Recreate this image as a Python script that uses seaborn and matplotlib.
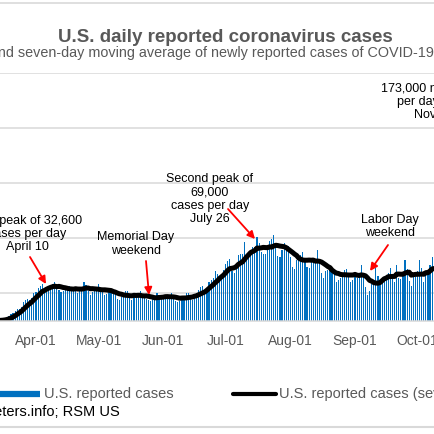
import matplotlib
matplotlib.use('Agg')
import matplotlib.pyplot as plt
from matplotlib.lines import Line2D
import seaborn as sns
import pandas as pd

# daily reported cases, starting 2020-03-01
mar = [20, 30, 50, 60, 80, 120, 120, 150, 200, 300, 450, 500, 700, 800, 1000, 1300,
       2000, 3000, 4800, 6000, 7000, 9000, 10500, 11000, 13000, 17500, 19000, 20000,
       19500, 21000, 25000]
apr = [26500, 29500, 32000, 34000, 25500, 29000, 31500, 32000, 34000, 35500, 30000,
       28000, 26000, 27500, 30000, 31000, 32000, 29000, 27000, 28500, 25500, 29500,
       31000, 35000, 33000, 27000, 24000, 26000, 28000, 30000]
may = [34000, 30000, 26000, 24000, 24500, 26000, 29000, 28000, 26000, 20000, 19000,
       22000, 21500, 27000, 27000, 24000, 19500, 22000, 21000, 22500, 27000, 24000,
       23000, 20000, 19000, 18500, 20000, 22500, 25000, 24000, 20500]
jun = [21000, 21500, 20500, 21500, 25000, 23000, 18500, 17500, 18500, 22000, 22000,
       25000, 25500, 20000, 19500, 23000, 25500, 28000, 31000, 32000, 26000, 30000,
       35000, 37000, 39000, 45000, 43000, 41000, 41000, 46000]
jul = [52000, 54000, 56000, 45000, 44000, 48000, 60000, 61000, 61000, 72000, 61000,
       58000, 62000, 67000, 67500, 76000, 71000, 63000, 61000, 61000, 66000, 73000,
       74000, 78000, 68000, 59000, 58000, 64000, 71000, 68000, 68000]
aug = [58000, 49000, 47000, 55000, 55000, 60000, 63000, 57000, 49000, 48000, 54000,
       56000, 53000, 64000, 55000, 44000, 39000, 45000, 46000, 46000, 48000, 45000,
       35000, 37000, 39000, 44000, 46000, 47000, 44000, 35000, 37000]
sep = [43000, 39000, 44000, 51000, 42000, 31000, 24000, 27000, 34000, 35000, 48000,
       41000, 35000, 36000, 39000, 39000, 44000, 48000, 42000, 35000, 51000, 39000,
       38000, 44000, 55000, 47000, 36000, 32000, 42000, 40000]
octo = [45000, 55000, 48000, 35000, 42000, 42000, 51000, 58000, 57000, 54000, 46000,
        42000, 51000, 58000, 65000, 71000]

month_ticks = ['2020-03-01', '2020-04-01', '2020-05-01', '2020-06-01', '2020-07-01',
               '2020-08-01', '2020-09-01', '2020-10-01', '2020-11-01']
month_labels = ['Mar-01', 'Apr-01', 'May-01', 'Jun-01', 'Jul-01', 'Aug-01',
                'Sep-01', 'Oct-01', 'Nov-01']

daily = mar + apr + may + jun + jul + aug + sep + octo
df = pd.DataFrame({'date': pd.date_range('2020-03-01', periods=len(daily)),
                   'cases': daily})
ref = pd.Timestamp('2020-04-01')
df['day'] = (df['date'] - ref).dt.days.astype(float)
df['avg'] = df['cases'].rolling(7).mean()

sns.set_style('white')
plt.rcParams['font.family'] = ['Liberation Sans', 'DejaVu Sans']

W = 435.0
def fx(x):
    return x / W
def fy(y):
    return 1 - y / W

fig = plt.figure(figsize=(4.35, 4.35), dpi=100)
# plot area is larger than the visible crop
pxday = 2.085
left_px = 36 - 31 * pxday
right_px = 36 + 243 * pxday
ax = fig.add_axes([fx(left_px), fy(322), (right_px - left_px) / W, (322 - 74) / W])

sns.barplot(data=df, x='day', y='cases', native_scale=True, width=0.55,
            color='#0070C0', saturation=1, errorbar=None, linewidth=0, ax=ax)
sns.lineplot(data=df, x='day', y='avg', color='black', linewidth=3.6, ax=ax)

ax.set_xlim(-31, 243)
ax.set_ylim(0, 225000)
ax.set_yticks([25000, 75000, 125000, 175000, 225000])
ax.set_yticklabels([])
ax.grid(axis='y', color='#D9D9D9', linewidth=1.1)
ax.set_axisbelow(True)
ticks = [(pd.Timestamp(t) - ref).days for t in month_ticks]
ax.set_xticks(ticks)
ax.set_xticklabels(month_labels)
ax.tick_params(axis='x', length=0, pad=9, labelsize=10, labelcolor='#595959')
ax.tick_params(axis='y', length=0)
ax.set_xlabel('')
ax.set_ylabel('')
for s in ['top', 'left', 'right']:
    ax.spines[s].set_visible(False)
ax.spines['bottom'].set_color('#D9D9D9')
ax.spines['bottom'].set_linewidth(1.1)

# header
fig.add_artist(Line2D([0, 1], [fy(4), fy(4)], color='#D9D9D9', lw=1.2))
fig.add_artist(Line2D([0, 1], [fy(428), fy(428)], color='#D9D9D9', lw=1.5))
fig.text(fx(225), fy(37), 'U.S. daily reported coronavirus cases', ha='center', va='center',
         fontsize=13.5, fontweight='bold', color='#595959')
fig.text(fx(434), fy(53), 'Daily cases and seven-day moving average of newly reported cases of COVID-19',
         ha='right', va='center', fontsize=10.4, color='#595959')

# annotations
txt = dict(ha='center', va='center', fontsize=9, color='black', linespacing=1.15)
fig.text(fx(27), fy(234), 'First peak of 32,600\ncases per day\nApril 10', **txt)
fig.text(fx(136), fy(244), 'Memorial Day\nweekend', **txt)
fig.text(fx(210), fy(199), 'Second peak of\n69,000\ncases per day\nJuly 26', **txt)
fig.text(fx(390), fy(226.5), 'Labor Day\nweekend', **txt)
fig.text(fx(435), fy(101.5), '173,000 new cases\nper day so far\nNov. 13', **txt)

arrows = [((30, 258), (46, 285)), ((146, 262), (149, 296)),
          ((228, 210), (255, 240)), ((388, 246), (370, 272))]
for start, tip in arrows:
    ax.annotate('', xy=(fx(tip[0]), fy(tip[1])), xycoords='figure fraction',
                xytext=(fx(start[0]), fy(start[1])), textcoords='figure fraction',
                arrowprops=dict(arrowstyle='-|>', color='#FF0000', lw=1.3,
                                mutation_scale=11, shrinkA=0, shrinkB=0),
                annotation_clip=False)

# legend
fig.add_artist(Line2D([fx(-5), fx(40)], [fy(394.5), fy(394.5)], color='#0070C0', lw=4.5,
                      solid_capstyle='butt'))
fig.text(fx(44), fy(394.5), 'U.S. reported cases', ha='left', va='center',
         fontsize=10.5, color='#595959')
fig.add_artist(Line2D([fx(233), fx(276)], [fy(395), fy(395)], color='black', lw=3,
                      solid_capstyle='round'))
fig.text(fx(279), fy(394.5), 'U.S. reported cases (seven-day moving average)', ha='left',
         va='center', fontsize=10.5, color='#595959')
fig.text(fx(120), fy(412), 'Source: Worldometers.info; RSM US', ha='right', va='center',
         fontsize=10.5, color='black')

fig.savefig('out.png', dpi=100)
